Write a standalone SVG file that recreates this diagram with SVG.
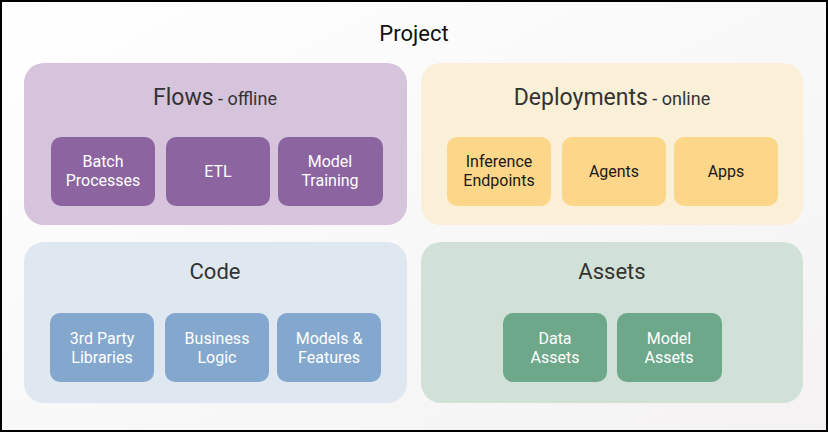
<svg xmlns="http://www.w3.org/2000/svg" width="828" height="432" viewBox="0 0 828 432">
<defs>
<linearGradient id="bg" x1="0" y1="0" x2="1" y2="1">
<stop offset="0" stop-color="#ffffff"/>
<stop offset="1" stop-color="#f4f2f2"/>
</linearGradient>
<style>
.t{font-family:Roboto,"Liberation Sans",sans-serif;text-anchor:middle;fill:#333}
.ct{font-size:22px}
.ct2{font-size:23px}
.sub{font-size:18px}
.in{font-family:Roboto,"Liberation Sans",sans-serif;text-anchor:middle;font-size:16px;fill:#fff}
.dk{fill:#1a1a1a}
.flow{fill:#d6c3dc}.flowi{fill:#8c64a0}
.dep{fill:#faefd7}.depi{fill:#fcd789}
.code{fill:#dfe7f0}.codei{fill:#84a8cd}
.ast{fill:#d2e1d7}.asti{fill:#6ea88b}
</style>
</defs>
<rect x="0" y="0" width="828" height="432" fill="url(#bg)"/>
<rect x="1" y="1" width="826" height="430" fill="none" stroke="#000" stroke-width="2"/>
<text x="414" y="41" font-family="Roboto,'Liberation Sans',sans-serif" font-size="22" text-anchor="middle" fill="#111">Project</text>

<g id="flows">
<rect class="flow" x="24" y="63" width="383" height="162" rx="20"/>
<text class="t" x="215" y="105"><tspan class="ct2">Flows</tspan><tspan class="sub"> - offline</tspan></text>
<g id="batch"><rect class="flowi" x="51" y="137" width="104" height="69" rx="10"/>
<text class="in" x="103" y="167">Batch</text><text class="in" x="103" y="186">Processes</text></g>
<g id="etl"><rect class="flowi" x="166" y="137" width="104" height="69" rx="10"/>
<text class="in" x="218" y="177">ETL</text></g>
<g id="training"><rect class="flowi" x="278" y="137" width="105" height="69" rx="10"/>
<text class="in" x="330" y="167">Model</text><text class="in" x="330" y="186">Training</text></g>
</g>

<g id="deployments">
<rect class="dep" x="421" y="63" width="382" height="162" rx="20"/>
<text class="t" x="612" y="105"><tspan class="ct2">Deployments</tspan><tspan class="sub"> - online</tspan></text>
<g id="inference"><rect class="depi" x="447" y="137" width="104" height="69" rx="10"/>
<text class="in dk" x="499" y="167">Inference</text><text class="in dk" x="499" y="186">Endpoints</text></g>
<g id="agents"><rect class="depi" x="562" y="137" width="104" height="69" rx="10"/>
<text class="in dk" x="614" y="177">Agents</text></g>
<g id="apps"><rect class="depi" x="674" y="137" width="104" height="69" rx="10"/>
<text class="in dk" x="726" y="177">Apps</text></g>
</g>

<g id="code">
<rect class="code" x="24" y="242" width="383" height="161" rx="20"/>
<text class="t ct" x="215" y="279">Code</text>
<g id="libs"><rect class="codei" x="50" y="313" width="104" height="69" rx="10"/>
<text class="in" x="102" y="344">3rd Party</text><text class="in" x="102" y="363">Libraries</text></g>
<g id="logic"><rect class="codei" x="165" y="313" width="104" height="69" rx="10"/>
<text class="in" x="217" y="344">Business</text><text class="in" x="217" y="363">Logic</text></g>
<g id="features"><rect class="codei" x="277" y="313" width="104" height="69" rx="10"/>
<text class="in" x="329" y="344">Models &amp;</text><text class="in" x="329" y="363">Features</text></g>
</g>

<g id="assets">
<rect class="ast" x="421" y="242" width="382" height="161" rx="20"/>
<text class="t ct" x="612" y="279">Assets</text>
<g id="data"><rect class="asti" x="503" y="313" width="104" height="69" rx="10"/>
<text class="in" x="555" y="344">Data</text><text class="in" x="555" y="363">Assets</text></g>
<g id="modelassets"><rect class="asti" x="617" y="313" width="105" height="69" rx="10"/>
<text class="in" x="669" y="344">Model</text><text class="in" x="669" y="363">Assets</text></g>
</g>
<g id="connectors"/>
</svg>
